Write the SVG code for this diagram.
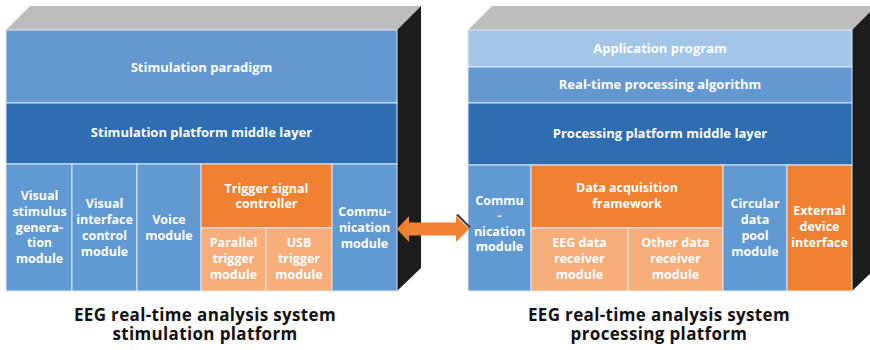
<svg xmlns="http://www.w3.org/2000/svg" width="870" height="350" viewBox="0 0 870 350">
  <defs>
    <style>
      .top { fill: #bdbdbd; }
      .side { fill: #1c1c1c; }
      .cell { stroke: #dfe9f4; stroke-width: 1; }
      .l1 { fill: #a4c6e8; }
      .l2 { fill: #6399d0; }
      .mid { fill: #2f6db3; }
      .blue { fill: #6199d2; }
      .orange { fill: #f08133; }
      .lorange { fill: #f7ae7b; }
      text { font-family: "Open Sans", "Noto Sans", sans-serif; font-weight: bold; fill: #ffffff; text-anchor: middle; }
      .t { font-size: 13px; }
      .m { font-size: 12.5px; }
      .cap { font-size: 17px; letter-spacing: 0.35px; fill: #111111; }
    </style>
  </defs>

  <!-- stimulation platform block -->
  <g id="stim-box">
    <polygon class="top" points="6,30 30,6 421,6 397,30"/>
    <polygon class="side" points="397,30 421,6 421,268 397,291"/>
  </g>
  <g id="stim-paradigm">
    <rect class="cell l2" x="6" y="30" width="391" height="73"/>
    <text class="t" x="201.5" y="72">Stimulation paradigm</text>
  </g>
  <g id="stim-middle">
    <rect class="cell mid" x="6" y="103" width="391" height="61"/>
    <text class="t" x="201.5" y="137">Stimulation platform middle layer</text>
  </g>
  <g id="visual-stimulus">
    <rect class="cell blue" x="6" y="164" width="66" height="127"/>
    <text class="m" x="39.5" y="200">Visual</text>
    <text class="m" x="39.5" y="216">stimulus</text>
    <text class="m" x="39.5" y="232">genera-</text>
    <text class="m" x="39.5" y="247">tion</text>
    <text class="m" x="39.5" y="263">module</text>
  </g>
  <g id="visual-interface">
    <rect class="cell blue" x="72" y="164" width="65" height="127"/>
    <text class="m" x="104.5" y="208">Visual</text>
    <text class="m" x="104.5" y="224">interface</text>
    <text class="m" x="104.5" y="240">control</text>
    <text class="m" x="104.5" y="256">module</text>
  </g>
  <g id="voice">
    <rect class="cell blue" x="137" y="164" width="64" height="127"/>
    <text class="m" x="169" y="224">Voice</text>
    <text class="m" x="169" y="240">module</text>
  </g>
  <g id="trigger-controller">
    <rect class="cell orange" x="201" y="164" width="131" height="64"/>
    <text class="m" x="266.5" y="193">Trigger signal</text>
    <text class="m" x="266.5" y="208">controller</text>
  </g>
  <g id="parallel-trigger">
    <rect class="cell lorange" x="201" y="228" width="65" height="63"/>
    <text class="m" x="233.5" y="247">Parallel</text>
    <text class="m" x="233.5" y="263">trigger</text>
    <text class="m" x="233.5" y="279">module</text>
  </g>
  <g id="usb-trigger">
    <rect class="cell lorange" x="266" y="228" width="66" height="63"/>
    <text class="m" x="299" y="247">USB</text>
    <text class="m" x="299" y="263">trigger</text>
    <text class="m" x="299" y="279">module</text>
  </g>
  <g id="stim-comm">
    <rect class="cell blue" x="332" y="164" width="65" height="127"/>
    <text class="m" x="364.5" y="216">Commu-</text>
    <text class="m" x="364.5" y="232">nication</text>
    <text class="m" x="364.5" y="248">module</text>
  </g>

  <!-- processing platform block -->
  <g id="proc-box">
    <polygon class="top" points="468,30 492,6 876,6 852,30"/>
    <polygon class="side" points="852,30 876,6 876,268 852,291"/>
  </g>
  <g id="application">
    <rect class="cell l1" x="468" y="30" width="384" height="37"/>
    <text class="t" x="660" y="53">Application program</text>
  </g>
  <g id="algorithm">
    <rect class="cell l2" x="468" y="67" width="384" height="36"/>
    <text class="t" x="660" y="89">Real-time processing algorithm</text>
  </g>
  <g id="proc-middle">
    <rect class="cell mid" x="468" y="103" width="384" height="62"/>
    <text class="t" x="660" y="138">Processing platform middle layer</text>
  </g>
  <g id="proc-comm">
    <rect class="cell blue" x="468" y="165" width="63" height="126"/>
    <text class="m" x="499.5" y="205">Commu</text>
    <text class="m" x="499.5" y="220">-</text>
    <text class="m" x="499.5" y="236">nication</text>
    <text class="m" x="499.5" y="251">module</text>
  </g>
  <g id="acquisition">
    <rect class="cell orange" x="531" y="165" width="192" height="63"/>
    <text class="m" x="627" y="192">Data acquisition</text>
    <text class="m" x="627" y="208">framework</text>
  </g>
  <g id="eeg-receiver">
    <rect class="cell lorange" x="531" y="228" width="97" height="63"/>
    <text class="m" x="579.5" y="247">EEG data</text>
    <text class="m" x="579.5" y="263">receiver</text>
    <text class="m" x="579.5" y="279">module</text>
  </g>
  <g id="other-receiver">
    <rect class="cell lorange" x="628" y="228" width="95" height="63"/>
    <text class="m" x="675.5" y="247">Other data</text>
    <text class="m" x="675.5" y="263">receiver</text>
    <text class="m" x="675.5" y="279">module</text>
  </g>
  <g id="data-pool">
    <rect class="cell blue" x="723" y="165" width="64" height="126"/>
    <text class="m" x="755" y="208">Circular</text>
    <text class="m" x="755" y="224">data</text>
    <text class="m" x="755" y="240">pool</text>
    <text class="m" x="755" y="256">module</text>
  </g>
  <g id="external">
    <rect class="cell orange" x="787" y="165" width="65" height="126"/>
    <text class="m" x="819.5" y="215">External</text>
    <text class="m" x="819.5" y="231">device</text>
    <text class="m" x="819.5" y="247">interface</text>
  </g>

  <!-- link between the two platforms -->
  <g id="connectors">
    <polygon fill="#3a3a3a" points="456,215 458,214 471,227 469,228"/>
    <polygon fill="#f08133" points="397,229 409,216 409,222.5 456,222.5 456,216 469,229 456,242 456,235.5 409,235.5 409,242"/>
  </g>

  <!-- captions -->
  <g id="captions">
    <text class="cap" x="205" y="321">EEG real-time analysis system</text>
    <text class="cap" x="205" y="340">stimulation platform</text>
    <text class="cap" x="659" y="321">EEG real-time analysis system</text>
    <text class="cap" x="659" y="340">processing platform</text>
  </g>
</svg>
